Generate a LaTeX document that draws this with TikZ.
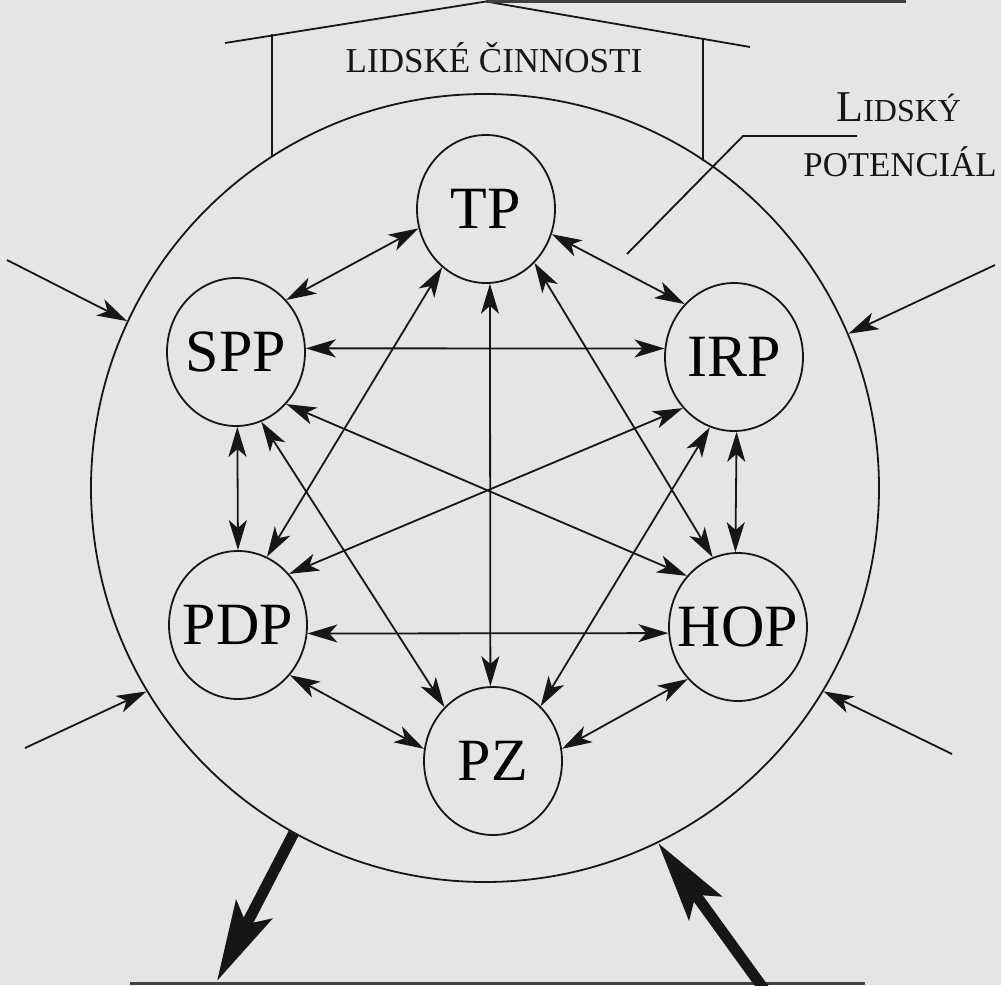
\documentclass[tikz,border=0pt]{standalone}
\usepackage{fontspec}
\setmainfont{Liberation Serif}
\usetikzlibrary{arrows.meta,shapes.geometric}
\definecolor{paper}{RGB}{229,229,229}
\definecolor{ink}{RGB}{22,22,22}
\tikzset{
  proc/.style={ellipse,draw=ink,line width=0.9pt,minimum width=69pt,minimum height=74pt,inner sep=0pt,font=\fontsize{30}{30}\selectfont},
  tipS/.tip={Stealth[length=15pt,width=9pt,inset=4pt]},
  link/.style={draw=ink,line width=0.9pt,{tipS}-{tipS}},
  inflow/.style={draw=ink,line width=0.9pt,-{tipS}},
  bigflow/.style={draw=ink,line width=5.5pt,-{Stealth[length=40pt,width=20pt,inset=8pt]}},
  thinline/.style={draw=ink,line width=0.9pt},
  edgeline/.style={draw=black!75,line width=1.5pt},
  caps/.style={inner sep=0pt,text=ink},
}
\begin{document}
\begin{tikzpicture}[x=0.5pt,y=-0.5pt]
\useasboundingbox (0,0) rectangle (1001,985);
\fill[paper] (0,0) rectangle (1001,985);
\clip (0,0) rectangle (1001,985);

% outer circle
\node[circle,draw=ink,line width=0.9pt,minimum size=394pt,inner sep=0pt] (outer) at (485,488) {};

% roof
\coordinate (roofL) at (225,43);
\coordinate (peak) at (486,1.5);
\coordinate (roofR) at (750,47);
\coordinate (topR) at (906,1.5);
\coordinate (pL) at (272,34);
\coordinate (pR) at (703,38);
\draw[thinline] (roofL) -- (peak) -- (roofR);
\draw[edgeline] (peak) -- (topR);
\draw[thinline] (pL) -- (pL |- outer.123);
\draw[thinline] (pR) -- (pR |- outer.56);
\node[caps,anchor=base,font=\fontsize{17.5}{18}\selectfont] (lc) at (494,72) {LIDSKÉ ČINNOSTI};

% lidsky potencial label
\node[caps,anchor=base west] (lp1) at (836,121) {{\fontsize{22}{22}\selectfont L}{\fontsize{16}{16}\selectfont IDSKÝ}};
\node[caps,anchor=base west,font=\fontsize{17.4}{17}\selectfont] (lp2) at (803,176) {POTENCIÁL};
\coordinate (lead1) at (627,254);
\coordinate (lead2) at (743,136);
\coordinate (lead3) at (857,136);
\draw[thinline] (lead1) -- (lead2) -- (lead3);

% inner nodes
\node[proc] (TP)  at (486,209) {\makebox[0pt]{TP}};
\node[proc] (SPP) at (236,352) {\makebox[0pt]{SPP}};
\node[proc] (IRP) at (734,357) {\makebox[0pt]{IRP}};
\node[proc] (PDP) at (238,625) {\makebox[0pt]{PDP}};
\node[proc] (HOP) at (738,627) {\makebox[0pt]{HOP}};
\node[proc] (PZ)  at (493,761) {\makebox[0pt]{PZ}};

% connectors
\draw[link] (TP.196) -- (SPP.46);
\draw[link] (TP.339) -- (IRP.133);
\draw[link] (SPP.3) -- (IRP.173);
\draw[link] (SPP.271) -- (PDP.90);
\draw[link] (IRP.272) -- (HOP.92);
\draw[link] (PDP.353) -- (HOP.185);
\draw[link] (PDP.316) -- (PZ.170);
\draw[link] (HOP.226) -- (PZ.10);
\draw[link] (TP.273) -- (PZ.92);
\draw[link] (TP.233) -- (PDP.67);
\draw[link] (TP.312) -- (HOP.110);
\draw[link] (SPP.314) -- (HOP.135);
\draw[link] (SPP.290) -- (PZ.132);
\draw[link] (IRP.225) -- (PDP.45);
\draw[link] (IRP.251) -- (PZ.49);

% inflows to outer circle
\coordinate (inA) at (7,260);
\coordinate (inB) at (25,748);
\coordinate (inC) at (995,265);
\coordinate (inD) at (952,754);
\draw[inflow] (inA) -- (outer.155);
\draw[inflow] (inB) -- (outer.211);
\draw[inflow] (inC) -- (outer.23);
\draw[inflow] (inD) -- (outer.329);

% thick arrows and bottom line
\coordinate (outTip) at (217,981);
\coordinate (inTail) at (766,992);
\coordinate (baseL) at (130,983);
\coordinate (baseR) at (865,983);
\draw[edgeline] (baseL) -- (baseR);
\draw[bigflow] (outer.241) -- (outTip);
\draw[bigflow] (inTail) -- (outer.296);
\end{tikzpicture}
\end{document}
